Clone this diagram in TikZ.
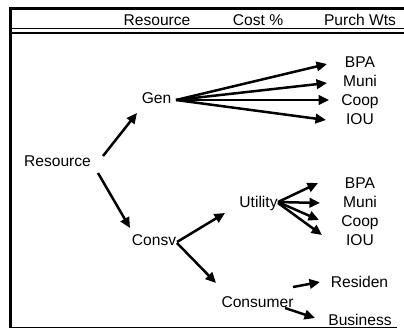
\documentclass[tikz,border=0pt]{standalone}
\usepackage{fontspec}
\setmainfont{Liberation Sans}
\usetikzlibrary{arrows.meta,calc}
\begin{document}
\begin{tikzpicture}[x=1pt,y=-1pt,
  lbl/.style={inner sep=0pt,text height=11pt,text depth=0pt,anchor=center,font=\fontsize{15.6}{18}\selectfont},
  arr/.style={line width=2.5pt,-{Triangle[length=10.5pt,width=9.5pt]}},
  frame/.style={line width=#1}]
\useasboundingbox (0,0) rectangle (404,329);
% frame
\draw[frame=3pt] (9,8.5) -- (404,8.5);
\draw[frame=3pt] (10.5,7) -- (10.5,328);
\draw[frame=1pt] (12,28.5) -- (404,28.5);
\draw[frame=2pt] (12,33) -- (404,33);
\draw[frame=1.2pt] (9,327.4) -- (397,327.4);
% header
\node[lbl] (h1) at (157,20.5) {Resource};
\node[lbl] (h2) at (258,20.5) {Cost \%};
\node[lbl] (h3) at (360,20.5) {Purch Wts};
% nodes
\node[lbl] (res) at (57.5,161) {Resource};
\node[lbl] (gen) at (156.5,98) {Gen};
\node[lbl] (consv) at (154,240) {Consv};
\node[lbl] (util) at (258.5,202) {Utility};
\node[lbl] (cons) at (257.5,302) {Consumer};
\node[lbl] (bpa1) at (360,62) {BPA};
\node[lbl] (muni1) at (360,81) {Muni};
\node[lbl] (coop1) at (360,100) {Coop};
\node[lbl] (iou1) at (360,119) {IOU};
\node[lbl] (bpa2) at (360,183) {BPA};
\node[lbl] (muni2) at (360,202) {Muni};
\node[lbl] (coop2) at (360,221) {Coop};
\node[lbl] (iou2) at (360,240) {IOU};
\node[lbl] (resid) at (359.5,282) {Residen};
\node[lbl] (bus) at (360,320) {Business};
% arrows
\draw[arr] ($(res)+(45.5,-5)$) -- ($(gen)+(-19.5,15)$);
\draw[arr] ($(res)+(40.5,12)$) -- ($(consv)+(-24,-12)$);
\draw[arr] ($(gen)+(19.5,2)$) -- ($(bpa1)+(-33,2)$);
\draw[arr] ($(gen)+(19.5,2)$) -- ($(muni1)+(-33,2)$);
\draw[arr] ($(gen)+(19.5,2)$) -- ($(coop1)+(-31,0)$);
\draw[arr] ($(gen)+(19.5,2)$) -- ($(iou1)+(-34,1)$);
\draw[arr] ($(consv)+(23,2)$) -- ($(util)+(-33.5,11)$);
\draw[arr] ($(consv)+(23,3)$) -- ($(cons)+(-41.5,-19)$);
\draw[arr] ($(util)+(19.5,0)$) -- ($(bpa2)+(-42,0)$);
\draw[arr] ($(util)+(19.5,0)$) -- ($(muni2)+(-40,1)$);
\draw[arr] ($(util)+(19.5,0)$) -- ($(coop2)+(-41,-1)$);
\draw[arr] ($(util)+(19.5,1)$) -- ($(iou2)+(-38,-5)$);
\draw[arr] ($(cons)+(35.5,-15)$) -- ($(resid)+(-39.5,0)$);
\draw[arr] ($(cons)+(27.5,6)$) -- ($(bus)+(-45,-2)$);
\end{tikzpicture}
\end{document}
